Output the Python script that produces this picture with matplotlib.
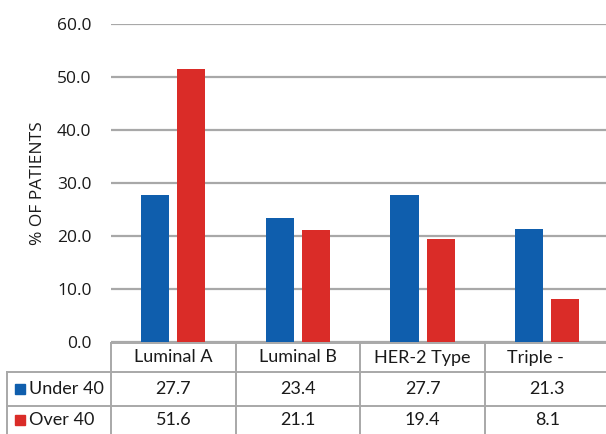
import matplotlib.pyplot as plt
import matplotlib.transforms as mtransforms
from matplotlib.lines import Line2D
from matplotlib.patches import Rectangle
import numpy as np

categories = ['Luminal A', 'Luminal B', 'HER-2 Type', 'Triple -']
under40 = [27.7, 23.4, 27.7, 21.3]
over40 = [51.6, 21.1, 19.4, 8.1]
series_names = ['Under 40', 'Over 40']
yticks = [0, 10, 20, 30, 40, 50, 60]

blue = '#0F5EAD'
red = '#DA2C28'
grid_c = '#A8A8A8'

W, H = 606, 434
fig = plt.figure(figsize=(W / 100, H / 100), dpi=100)
ax = fig.add_axes([111 / W, (H - 342) / H, (609.5 - 111) / W, 318 / H])

x = np.arange(len(categories))
bw = 0.225
ax.bar(x - 0.145, under40, bw, color=blue, zorder=3)
ax.bar(x + 0.145, over40, bw, color=red, zorder=3)

ax.set_xlim(-0.5, len(categories) - 0.5)
ax.set_ylim(0, 60)
ax.set_yticks(yticks)
ax.set_yticklabels([f'{v:.1f}' for v in yticks], fontsize=12.5, family='Open Sans', color='#1a1a1a')
ax.tick_params(axis='y', length=0, pad=14)
ax.set_xticks([])
for s in ax.spines.values():
    s.set_visible(False)
ax.yaxis.grid(True, color=grid_c, linewidth=1.6, zorder=0)
ax.set_axisbelow(True)
ax.set_ylabel('% OF PATIENTS', fontsize=12.5, family='Open Sans', color='#1a1a1a', labelpad=8)

# data table under the chart
tr = mtransforms.blended_transform_factory(ax.transData, fig.transFigure)
y_head_top = (H - 343) / H
y_row1 = (H - 372) / H
y_row2 = (H - 406) / H
y_bot = -0.01
left_lab = -0.5 - 104 / 124.5
right = len(categories) - 0.5
lw = 1.4

def hline(x0, x1, y):
    fig.add_artist(Line2D([x0, x1], [y, y], transform=tr, color=grid_c, lw=lw, clip_on=False))

def vline(xx, y0, y1):
    fig.add_artist(Line2D([xx, xx], [y0, y1], transform=tr, color=grid_c, lw=lw, clip_on=False))

hline(-0.5, right, y_head_top)
hline(left_lab, right, y_row1)
hline(left_lab, right, y_row2)
vline(left_lab, y_bot, y_row1)
for b in np.arange(len(categories) + 1) - 0.5:
    vline(b, y_bot, y_head_top)

# the last header text sits a little left of its column centre in the original
head_shift = [0, 0, 0, -0.096]
tfont = dict(family='Lato', fontsize=13, color='#1a1a1a')
for i, c in enumerate(categories):
    fig.text(i + head_shift[i], (y_head_top + y_row1) / 2, c, transform=tr, ha='center', va='center', **tfont)
    fig.text(i, (y_row1 + y_row2) / 2, f'{under40[i]:.1f}', transform=tr, ha='center', va='center', **tfont)
    fig.text(i, (y_row2 + 0) / 2, f'{over40[i]:.1f}', transform=tr, ha='center', va='center', **tfont)

for name, col, (ya, yb) in zip(series_names, [blue, red], [(y_row1, y_row2), (y_row2, 0)]):
    ym = (ya + yb) / 2
    fig.add_artist(Rectangle((15 / W, ym - 5 / H), 10 / W, 10 / H, transform=fig.transFigure,
                             color=col))
    fig.text(29 / W, ym, name, ha='left', va='center', **tfont)

fig.savefig('out.png', dpi=100)
